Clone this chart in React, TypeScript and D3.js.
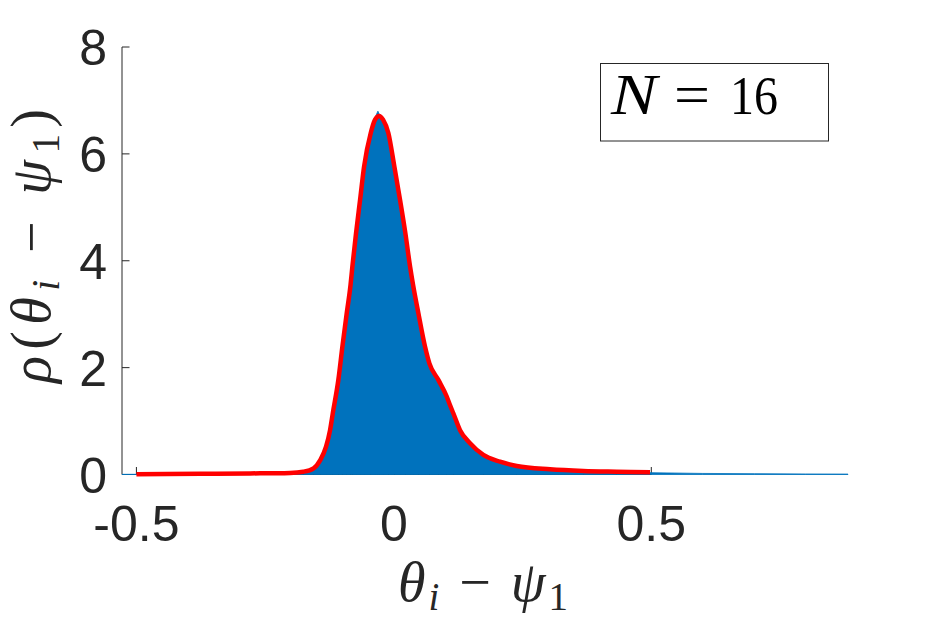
import React from "react";
import * as d3 from "d3";

// Fitted density (red curve)
const fitX = [-0.5, -0.376, -0.279, -0.2016, -0.176, -0.156, -0.143, -0.1317, -0.1239, -0.1186, -0.1078, -0.1, -0.0915, -0.0841, -0.0806, -0.0734, -0.0656, -0.0579, -0.0449, -0.0365, -0.0287, -0.021, -0.0107, 0.001, 0.012, 0.0223, 0.0315, 0.0373, 0.0476, 0.0606, 0.069, 0.0864, 0.1027, 0.109, 0.1155, 0.1285, 0.148, 0.1738, 0.2062, 0.2386, 0.3033, 0.368, 0.4328, 0.4975];
const fitY = [0.005, 0.013, 0.02, 0.03, 0.052, 0.116, 0.27, 0.52, 0.83, 1.146, 1.77, 2.39, 3.02, 3.55, 3.89, 4.52, 5.14, 5.76, 6.39, 6.64, 6.71, 6.64, 6.39, 5.76, 5.14, 4.52, 3.89, 3.55, 3.02, 2.39, 2.08, 1.77, 1.46, 1.3, 1.146, 0.83, 0.584, 0.365, 0.24, 0.16, 0.097, 0.066, 0.052, 0.041];

// Histogram (pdf normalised) outline
const histX = [-0.528, -0.5, -0.376, -0.279, -0.2016, -0.176, -0.156, -0.143, -0.1317, -0.1239, -0.1186, -0.1078, -0.1, -0.0915, -0.0841, -0.0806, -0.0734, -0.0656, -0.0579, -0.0449, -0.0365, -0.031, -0.0287, -0.021, -0.0107, 0.001, 0.012, 0.0223, 0.0315, 0.0373, 0.0476, 0.0606, 0.069, 0.0864, 0.1027, 0.109, 0.1155, 0.1285, 0.148, 0.1738, 0.2062, 0.2386, 0.3033, 0.368, 0.4328, 0.4975, 0.6, 0.7, 0.8, 0.882];
const histY = [0.003, 0.004, 0.01, 0.016, 0.025, 0.045, 0.1, 0.25, 0.5, 0.81, 1.12, 1.75, 2.37, 3.0, 3.53, 3.87, 4.5, 5.12, 5.75, 6.4, 6.68, 6.8, 6.75, 6.66, 6.41, 5.8, 5.18, 4.56, 3.92, 3.57, 3.03, 2.39, 2.07, 1.76, 1.45, 1.29, 1.13, 0.82, 0.57, 0.35, 0.23, 0.15, 0.09, 0.058, 0.044, 0.034, 0.02, 0.015, 0.01, 0.008];

const xTicks = [-0.5, 0, 0.5];
const xTickLabels = ["-0.5", "0", "0.5"];
const yTicks = [0, 2, 4, 6, 8];
const yTickLabels = ["0", "2", "4", "6", "8"];
const legendN = "16";

export default function App() {
  const x = d3.scaleLinear().domain([-0.528, 0.5]).range([122, 651.3]);
  const y = d3.scaleLinear().domain([0, 8]).range([474.5, 47]);
  const axisColor = "#262626";

  const histData = histX.map((v, i) => [v, histY[i]] as [number, number]);
  const fitData = fitX.map((v, i) => [v, fitY[i]] as [number, number]);

  const area = d3
    .area<[number, number]>()
    .x((d) => x(d[0]))
    .y0(y(0))
    .y1((d) => y(d[1]));
  const line = d3
    .line<[number, number]>()
    .x((d) => x(d[0]))
    .y((d) => y(d[1]))
    .curve(d3.curveMonotoneX);

  const tickFont = "'Liberation Sans', Arial, Helvetica, sans-serif";
  const mathFont = "'Liberation Serif', 'Times New Roman', serif";

  return (
    <div style={{ position: "absolute", left: 0, top: 0 }}>
      <svg width={938} height={625} style={{ display: "block", background: "#fff" }}>
        {/* axes lines (drawn below data) */}
        <line x1={x(-0.528)} x2={x(0.5)} y1={y(0)} y2={y(0)} stroke={axisColor} strokeWidth={1} />
        <line x1={x(-0.528)} x2={x(-0.528)} y1={y(0)} y2={y(8)} stroke={axisColor} strokeWidth={1} />
        {yTicks.map((t) => (
          <line key={"yt" + t} x1={x(-0.528)} x2={x(-0.528) + 7.5} y1={y(t)} y2={y(t)} stroke={axisColor} strokeWidth={1} />
        ))}
        {xTicks.map((t) => (
          <line key={"xt" + t} x1={x(t)} x2={x(t)} y1={y(0)} y2={y(0) - 7.5} stroke={axisColor} strokeWidth={1} />
        ))}

        {/* histogram */}
        <path d={area(histData) || ""} fill="#0072BD" stroke="#0072BD" strokeWidth={0.8} />
        {/* fitted curve */}
        <path d={line(fitData) || ""} fill="none" stroke="#FF0000" strokeWidth={4.5} strokeLinejoin="round" />

        {/* tick labels */}
        {yTicks.map((t, i) => (
          <text key={"yl" + t} x={107} y={y(t) + 18} textAnchor="end" fontFamily={tickFont} fontSize={50} fill={axisColor}>
            {yTickLabels[i]}
          </text>
        ))}
        {xTicks.map((t, i) => (
          <text key={"xl" + t} x={x(t)} y={541} textAnchor="middle" fontFamily={tickFont} fontSize={50} fill={axisColor}>
            {xTickLabels[i]}
          </text>
        ))}

        {/* x label */}
        <text x={483} y={601} textAnchor="middle" fontFamily={mathFont} fontSize={56} fill={axisColor} textLength={170} lengthAdjust="spacing">
          <tspan fontStyle="italic">θ</tspan>
          <tspan fontStyle="italic" fontSize={39} dy={9}>i</tspan>
          <tspan dy={-9}> − </tspan>
          <tspan fontStyle="italic">ψ</tspan>
          <tspan fontSize={39} dy={9}>1</tspan>
        </text>

        {/* y label */}
        <text transform="translate(50,246) rotate(-90)" textAnchor="middle" fontFamily={mathFont} fontSize={56} fill={axisColor} textLength={274} lengthAdjust="spacing">
          <tspan fontStyle="italic">ρ</tspan>
          <tspan>(</tspan>
          <tspan fontStyle="italic">θ</tspan>
          <tspan fontStyle="italic" fontSize={39} dy={9}>i</tspan>
          <tspan dy={-9}> − </tspan>
          <tspan fontStyle="italic">ψ</tspan>
          <tspan fontSize={39} dy={9}>1</tspan>
          <tspan dy={-9}>)</tspan>
        </text>

        {/* legend */}
        <rect x={600.5} y={63.5} width={228} height={77.5} fill="#fff" stroke="#262626" strokeWidth={1} />
        <text x={611} y={114} fontFamily={mathFont} fontSize={56} fill="#000" fontStyle="italic" textLength={46} lengthAdjust="spacingAndGlyphs">N</text>
        <text x={674} y={114} fontFamily={mathFont} fontSize={56} fill="#000" textLength={36} lengthAdjust="spacingAndGlyphs">=</text>
        <text x={730} y={114} fontFamily={mathFont} fontSize={54} fill="#000" textLength={48} lengthAdjust="spacingAndGlyphs">{legendN}</text>
      </svg>
    </div>
  );
}
